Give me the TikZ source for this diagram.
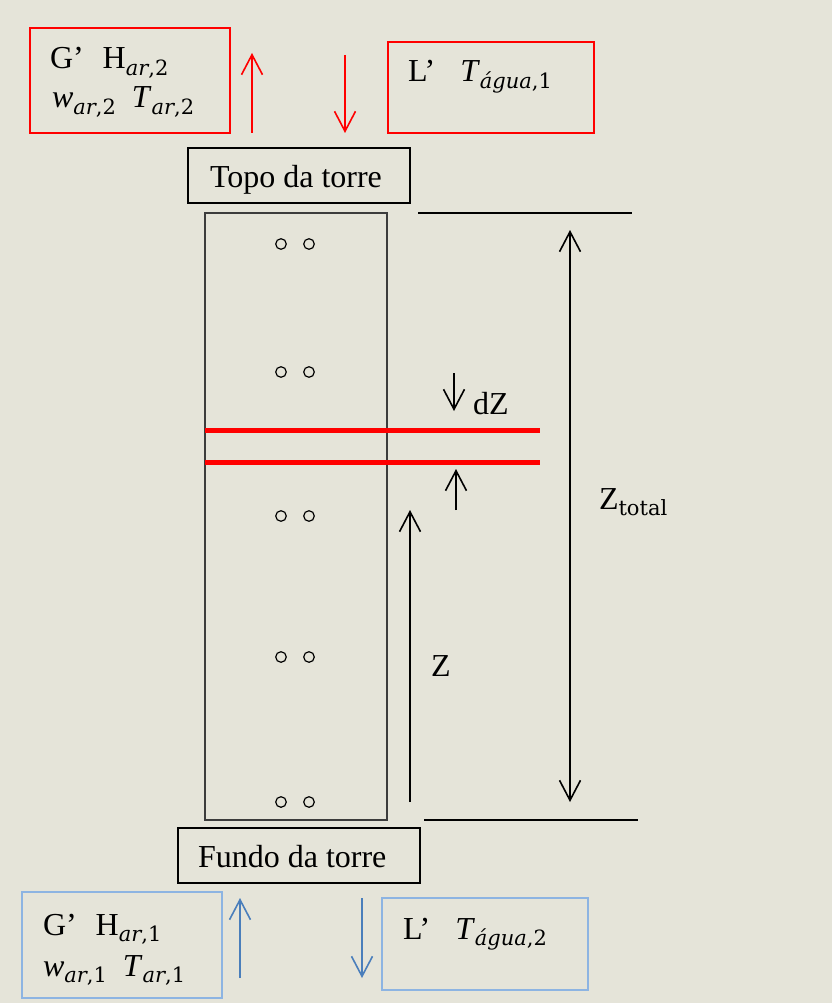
\documentclass[tikz,border=0pt]{standalone}
\usepackage{fontspec}
\setmainfont{Liberation Serif}
\newfontfamily\subfont{DejaVu Serif}
\usetikzlibrary{arrows.meta}
\definecolor{bg}{HTML}{E5E4D9}
\definecolor{boxblue}{HTML}{8DB4E2}
\definecolor{arrblue}{HTML}{4A7EBB}
\definecolor{towergray}{HTML}{3C3C3C}
\newcommand\subv[2]{\raisebox{-6.5pt}{\subfont\fontsize{21}{24}\selectfont\textit{#1},#2}}
\newcommand\subup[1]{\raisebox{-6.5pt}{\subfont\fontsize{21}{24}\selectfont #1}}
\begin{document}
\begin{tikzpicture}[x=1pt,y=-1pt,
  every node/.style={inner sep=0pt, outer sep=0pt},
  txt/.style={anchor=base west, font=\fontsize{32}{36}\selectfont},
  redbox/.style={draw=red, line width=1.2pt, anchor=north west},
  bluebox/.style={draw=boxblue, line width=1.2pt, anchor=north west},
  blackbox/.style={draw=black, line width=1.2pt, anchor=north west},
  arr/.style={-{Straight Barb[length=20pt,width=21pt]}, line width=1.6pt},
  dbl/.style={{Straight Barb[length=20pt,width=21pt]}-{Straight Barb[length=20pt,width=21pt]}, line width=1.6pt},
  hole/.style={draw=black, line width=1.2pt}]
\fill[bg] (0,0) rectangle (832,1003);
\useasboundingbox (0,0) rectangle (832,1003);

% top boxes
\node[redbox, minimum width=200pt, minimum height=105pt] (gtop) at (30,28) {};
\node[txt] (gtopA) at (50,69) {G’\hspace{19pt}H\subv{ar}{2}};
\node[txt] (gtopB) at (52,108) {\textit{w}\subv{ar}{2}\hspace{16pt}\textit{T}\subv{ar}{2}};
\node[redbox, minimum width=206pt, minimum height=91pt] (ltop) at (388,42) {};
\node[txt] (ltopA) at (408,82) {L’\hspace{25pt}\textit{T}\subv{água}{1}};

\node[blackbox, minimum width=222pt, minimum height=55pt] (topo) at (188,148) {};
\node[txt] (topoT) at (210,187) {Topo da torre};

% red arrows
\coordinate (ru1) at (252,133); \coordinate (ru2) at (252,53);
\coordinate (rd1) at (345,55);  \coordinate (rd2) at (345,133);
\draw[arr, red] (ru1) -- (ru2);
\draw[arr, red] (rd1) -- (rd2);

% tower
\node[draw=towergray, line width=2pt, anchor=north west, minimum width=182pt, minimum height=607pt] (tower) at (205,213) {};
\foreach \yy in {244,372,516,657,802}{
  \draw[hole] (281,\yy) circle (5.3pt);
  \draw[hole] (309,\yy) circle (5.3pt);
}

% red slice lines
\coordinate (s1a) at (205,430); \coordinate (s1b) at (540,430);
\coordinate (s2a) at (205,462); \coordinate (s2b) at (540,462);
\draw[red, line width=5pt] (s1a) -- (s1b);
\draw[red, line width=5pt] (s2a) -- (s2b);

% dZ arrows
\coordinate (dz1) at (454,373); \coordinate (dz2) at (454,411);
\coordinate (dz3) at (456,510); \coordinate (dz4) at (456,469);
\draw[arr] (dz1) -- (dz2);
\draw[arr] (dz3) -- (dz4);
\node[txt] (dZ) at (473,414) {dZ};

% Z arrow
\coordinate (z1) at (410,802); \coordinate (z2) at (410,510);
\draw[arr] (z1) -- (z2);
\node[txt] (Zl) at (431,676) {Z};

% Z total
\coordinate (ht1) at (418,213); \coordinate (ht2) at (632,213);
\coordinate (hb1) at (424,820); \coordinate (hb2) at (638,820);
\draw[line width=1.5pt] (ht1) -- (ht2);
\draw[line width=1.5pt] (hb1) -- (hb2);
\coordinate (zt1) at (570,230); \coordinate (zt2) at (570,802);
\draw[dbl] (zt1) -- (zt2);
\node[txt] (Zt) at (599,509) {Z\subup{total}};

% bottom
\node[blackbox, minimum width=242pt, minimum height=55pt] (fundo) at (178,828) {};
\node[txt] (fundoT) at (198,867) {Fundo da torre};

\node[bluebox, minimum width=200pt, minimum height=106pt] (gbot) at (22,892) {};
\node[txt] (gbotA) at (43,935) {G’\hspace{19pt}H\subv{ar}{1}};
\node[txt] (gbotB) at (43,976) {\textit{w}\subv{ar}{1}\hspace{16pt}\textit{T}\subv{ar}{1}};
\node[bluebox, minimum width=206pt, minimum height=92pt] (lbot) at (382,898) {};
\node[txt] (lbotA) at (403,939) {L’\hspace{25pt}\textit{T}\subv{água}{2}};

\coordinate (bu1) at (240,978); \coordinate (bu2) at (240,898);
\coordinate (bd1) at (362,898); \coordinate (bd2) at (362,978);
\draw[arr, arrblue] (bu1) -- (bu2);
\draw[arr, arrblue] (bd1) -- (bd2);
\end{tikzpicture}
\end{document}
